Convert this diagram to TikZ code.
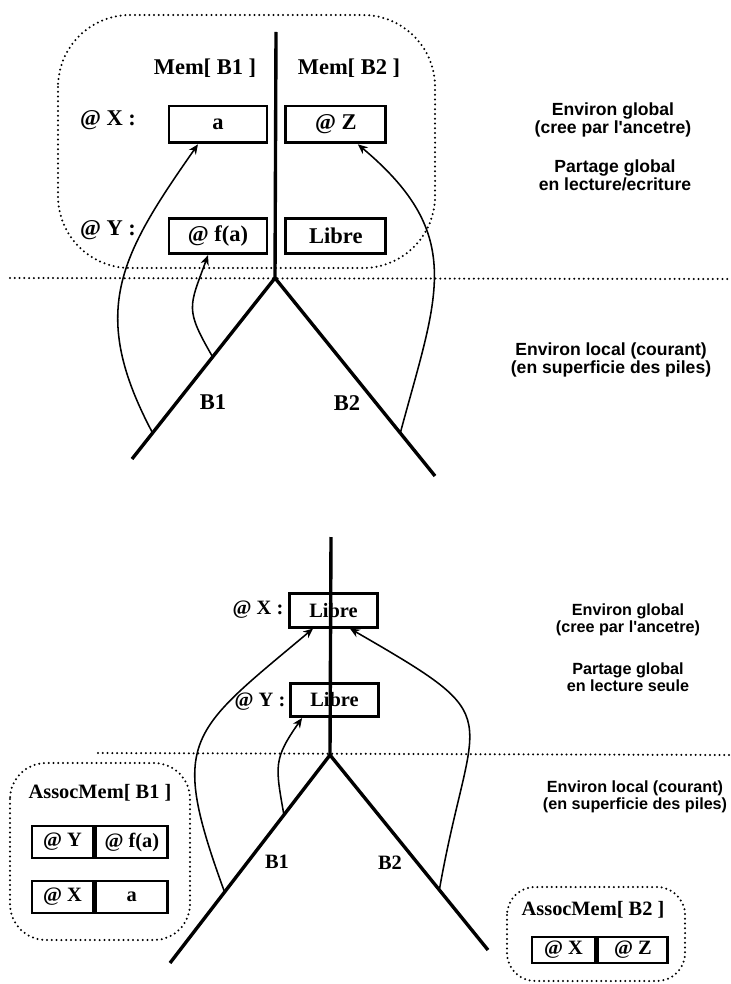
\documentclass[tikz,border=0pt]{standalone}
\usepackage{fontspec}
\setmainfont{Liberation Serif}
\newfontfamily\notefont{Liberation Sans}
\usetikzlibrary{positioning,arrows.meta,calc}

\begin{document}
\begin{tikzpicture}[x=0.025cm,y=-0.025cm,
  lbl/.style={font=\fontsize{16}{18}\selectfont\bfseries},
  lbls/.style={font=\fontsize{14.5}{16}\selectfont\bfseries},
  memcell/.style={draw,line width=2pt,minimum width=2.45cm,minimum height=0.92cm,inner sep=0pt,lbl},
  memcellb/.style={draw,line width=2pt,minimum width=2.18cm,minimum height=0.83cm,inner sep=0pt,lbls},
  pair/.style={draw,line width=2pt,minimum height=0.8cm,inner sep=0pt,lbls},
  note/.style={align=center,font=\notefont\bfseries\fontsize{12.5}{10.7}\selectfont},
  noteb/.style={align=center,font=\notefont\bfseries\fontsize{11.5}{10.7}\selectfont},
  branch/.style={line width=2.4pt},
  link/.style={line width=1.1pt,-{Stealth[length=7pt,width=6pt]}},
  sep/.style={line width=1.6pt,dash pattern=on 0pt off 3.4pt,line cap=round},
  region/.style={sep,rounded corners=1.8cm}]
\useasboundingbox (0,0) rectangle (730,984);

% lecture/ecriture
\draw[region] (58,15) rectangle (435,268);
\node[lbl] (memA) at (205,68) {Mem[ B1 ]};
\node[lbl] (memB) at (349,68) {Mem[ B2 ]};
\node[memcell] (xa) at (218,124.5) {a};
\node[memcell,minimum width=2.5cm,right=0.4cm of xa] (xb) {@ Z};
\node[memcell,minimum height=0.875cm,below=1.825cm of xa] (ya) {@ f(a)};
\node[memcell,minimum width=2.5cm,minimum height=0.875cm,right=0.4cm of ya] (yb) {Libre};
\node[lbl] (adX) at (108,120) {@ X :};
\node[lbl] (adY) at (108,230) {@ Y :};
\coordinate (topA) at (276,32);
\coordinate (apexA) at (275,278);
\coordinate (endAL) at (132,459);
\coordinate (endAR) at (435,476);
\draw[branch] (topA) -- (apexA);
\draw[branch] (endAL) -- (apexA) -- (endAR);
\coordinate (stAL) at ($(apexA)!0.856!(endAL)$);
\coordinate (stAM) at ($(apexA)!0.436!(endAL)$);
\coordinate (stAR) at ($(apexA)!0.783!(endAR)$);
\draw[link] (stAL) to[out=118,in=235,looseness=1.2] ([xshift=-0.5cm]xa.south);
\draw[link] (stAM) to[out=120,in=250,looseness=1.4] ([xshift=-0.25cm]ya.south);
\draw[link] (stAR) to[out=75,in=-40,looseness=1.25] ([xshift=0.55cm]xb.south);
\node[lbl] (brA1) at (213,402) {B1};
\node[lbl] (brA2) at (347,403) {B2};
\coordinate (sepA0) at (10,278);
\coordinate (sepA1) at (730,279);
\draw[sep] (sepA0) -- (sepA1);
\node[note] (envG) at (613,120) {Environ global\\(cree par l'ancetre)};
\node[note] (share) at (615,175) {Partage global\\en lecture/ecriture};
\node[note] (envL) at (611,360) {Environ local (courant)\\(en superficie des piles)};

% lecture seule
\node[memcellb] (bx) at (333.5,610.5) {Libre};
\node[memcellb] (by) at (334.5,700) {Libre};
\node[lbls] (adX2) at (258,610) {@ X :};
\node[lbls] (adY2) at (260,702) {@ Y :};
\coordinate (topB) at (331,537);
\coordinate (apexB) at (330,755);
\coordinate (endBL) at (170,963);
\coordinate (endBR) at (488,950);
\draw[branch] (topB) -- (apexB);
\draw[branch] (endBL) -- (apexB) -- (endBR);
\coordinate (stBL) at ($(apexB)!0.659!(endBL)$);
\coordinate (stBM) at ($(apexB)!0.288!(endBL)$);
\coordinate (stBR) at ($(apexB)!0.692!(endBR)$);
\draw[link] (stBL) to[out=110,in=220,looseness=1.5] ([xshift=-0.51cm]bx.south);
\draw[link] (stBM) to[out=100,in=235,looseness=1.3] ([xshift=-0.81cm]by.south);
\draw[link] (stBR) to[out=80,in=-30,looseness=1.75] ([xshift=0.41cm]bx.south);
\node[lbls] (brB1) at (277,862) {B1};
\node[lbls] (brB2) at (390,863) {B2};
\coordinate (sepB0) at (98,753);
\coordinate (sepB1) at (730,755);
\draw[sep] (sepB0) -- (sepB1);
\node[noteb] (envG2) at (628,620) {Environ global\\(cree par l'ancetre)};
\node[noteb] (share2) at (628,677) {Partage global\\en lecture seule};
\node[noteb] (envL2) at (635,797) {Environ local (courant)\\(en superficie des piles)};

\draw[region,rounded corners=0.9cm] (10,763) rectangle (190,940);
\node[lbls] (amA) at (100,793) {AssocMem[ B1 ]};
\node[pair,minimum width=1.525cm] (ayk) at (62.5,842) {@ Y};
\node[pair,minimum width=1.8cm,right=0pt of ayk] (ayv) {@ f(a)};
\node[pair,minimum width=1.525cm] (axk) at (62.5,897) {@ X};
\node[pair,minimum width=1.8cm,right=0pt of axk] (axv) {a};

\draw[region,rounded corners=0.7cm] (507,887) rectangle (685,981);
\node[lbls] (amB) at (593,910) {AssocMem[ B2 ]};
\node[pair,minimum width=1.575cm,minimum height=0.65cm] (bxk) at (563.5,950) {@ X};
\node[pair,minimum width=1.75cm,minimum height=0.65cm,right=0pt of bxk] (bxv) {@ Z};
\end{tikzpicture}
\end{document}
